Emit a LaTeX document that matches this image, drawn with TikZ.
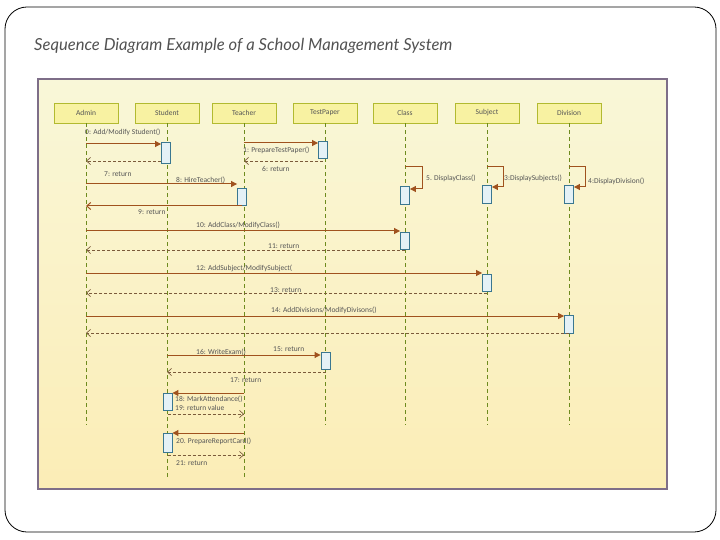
\documentclass[tikz,border=0pt]{standalone}
\usepackage{fontspec}
\setmainfont{Carlito}
\newfontfamily\titlefont{Lato}
\usetikzlibrary{arrows.meta}
\definecolor{frameC}{HTML}{7E6E88}
\definecolor{callC}{HTML}{A0521E}
\definecolor{retC}{HTML}{7B5B3B}
\definecolor{lifeC}{HTML}{6E8B1E}
\definecolor{headF}{HTML}{F8F2A2}
\definecolor{headD}{HTML}{B2BA30}
\definecolor{actF}{HTML}{E4F1F6}
\definecolor{actD}{HTML}{3A7790}
\definecolor{txtC}{HTML}{555555}
\definecolor{bgTop}{HTML}{F9F7D8}
\definecolor{bgBot}{HTML}{FBEDB6}
\tikzset{
  head/.style={draw=headD, fill=headF, line width=0.9pt, minimum width=64pt, minimum height=20pt, inner sep=0pt, font=\fontsize{7.5}{8}\selectfont, text=txtC},
  life/.style={draw=lifeC, line width=0.8pt, dash pattern=on 4pt off 3pt},
  act/.style={draw=actD, fill=actF, line width=0.9pt, minimum width=9pt, inner sep=0pt},
  call/.style={draw=callC, line width=1pt, -{Triangle[length=6pt,width=6pt]}},
  ret/.style={draw=retC, line width=0.7pt, dash pattern=on 3pt off 2pt, -{Straight Barb[length=4pt,width=7pt]}},
  retsolid/.style={draw=callC, line width=1pt, -{Straight Barb[length=4pt,width=7pt]}},
  lbl/.style={anchor=west, inner sep=0pt, font=\fontsize{7.5}{8}\selectfont, text=txtC},
}
\begin{document}
\begin{tikzpicture}[x=1pt,y=-1pt]
\useasboundingbox (0,0) rectangle (720,540);
\draw[line width=0.8pt, rounded corners=22pt] (5,7) rectangle (716,532);
\node[anchor=west, inner sep=0pt, font=\titlefont\itshape\fontsize{16.6}{20}\selectfont, text=black!68] (title) at (34,46) {Sequence Diagram Example of a School Management System};
\shade[top color=bgTop, bottom color=bgBot] (38,79) rectangle (667,489);
\draw[frameC, line width=1.2pt] (38,79) rectangle (667,489);

% heads
\node[head] (admin) at (86,113) {Admin};
\node[head] (student) at (167,113) {Student};
\node[head] (teacher) at (244,113) {Teacher};
\node[head] (testpaper) at (325,113) {TestPaper};
\node[head] (class) at (405,113) {Class};
\node[head] (subject) at (487,113) {Subject};
\node[head] (division) at (569,113) {Division};

% lifeline ends
\coordinate (adminE) at (86,425);
\coordinate (studentE) at (167,477);
\coordinate (teacherE) at (244,477);
\coordinate (testpaperE) at (325,425);
\coordinate (classE) at (405,425);
\coordinate (subjectE) at (487,425);
\coordinate (divisionE) at (569,425);
\foreach \n in {admin,student,teacher,testpaper,class,subject,division}
  \draw[life] (\n.south) -- (\n E);

% activations
\node[act, minimum height=21pt] (a1) at (166,152.5) {};
\node[act, minimum height=17pt] (a2) at (323,150) {};
\node[act, minimum height=18pt] (a3) at (405,195) {};
\node[act, minimum height=18pt] (a4) at (487,194) {};
\node[act, minimum height=18pt] (a5) at (569,194) {};
\node[act, minimum height=17pt] (a6) at (242,196.5) {};
\node[act, minimum height=17pt] (a7) at (405,240.5) {};
\node[act, minimum height=17pt] (a8) at (487,282.5) {};
\node[act, minimum height=18pt] (a9) at (569,324) {};
\node[act, minimum height=17pt] (a10) at (325.5,360.5) {};
\node[act, minimum height=17pt] (a11) at (167.5,401.5) {};
\node[act, minimum height=19pt] (a12) at (167.5,442.5) {};

% messages
\draw[call] (admin |- 0,144) -- (a1.west |- 0,144);
\node[lbl] (l0) at (85,132) {0: Add/Modify Student()};
\draw[ret] (a1.west |- 0,161) -- (admin |- 0,161);
\node[lbl] (l7) at (104,174) {7: return};

\draw[call] (teacher |- 0,143) -- (a2.west |- 0,143);
\node[lbl] (l1) at (243,150) {1: PrepareTestPaper()};
\draw[ret] (a2.south |- 0,161) -- (teacher |- 0,161);
\node[lbl] (l6) at (262,169) {6: return};

\draw[call] (class |- 0,167) -- (422,167) -- (422,189) -- (a3.east |- 0,189);
\node[lbl] (l5) at (426,178) {5. DisplayClass()};
\draw[call] (subject |- 0,167) -- (503,167) -- (503,187) -- (a4.east |- 0,187);
\node[lbl] (l3) at (504,178) {3:DisplaySubjects()};
\draw[call] (division |- 0,167) -- (585,167) -- (585,187) -- (a5.east |- 0,187);
\node[lbl] (l4) at (588,181) {4:DisplayDivision()};

\draw[call] (admin |- 0,184) -- (a6.west |- 0,184);
\node[lbl] (l8) at (176,180) {8: HireTeacher()};
\draw[retsolid] (a6.south |- 0,206) -- (admin |- 0,206);
\node[lbl] (l9) at (138,212) {9: return};

\draw[call] (admin |- 0,231) -- (a7.west |- 0,231);
\node[lbl] (l10) at (196,225) {10: AddClass/ModifyClass()};
\draw[ret] (a7.south |- 0,250) -- (admin |- 0,250);
\node[lbl] (l11) at (268,246) {11: return};

\draw[call] (admin |- 0,273) -- (a8.west |- 0,273);
\node[lbl] (l12) at (196,268) {12: AddSubject/ModifySubject(};
\draw[ret] (a8.south |- 0,293) -- (admin |- 0,293);
\node[lbl] (l13) at (270,290) {13: return};

\draw[call] (admin |- 0,316) -- (a9.west |- 0,316);
\node[lbl] (l14) at (271,310) {14: AddDivisions/ModifyDivisons()};
\draw[ret] (a9.south |- 0,333) -- (admin |- 0,333);

\draw[call] (student |- 0,355) -- (a10.west |- 0,355);
\node[lbl] (l16) at (196,352) {16: WriteExam()};
\node[lbl] (l15) at (273,349) {15: return};
\draw[ret] (a10.south |- 0,372) -- (student |- 0,372);
\node[lbl] (l17) at (230,380) {17: return};

\draw[call] (teacher |- 0,393) -- (a11.east |- 0,393);
\node[lbl] (l18) at (175,399) {18: MarkAttendance()};
\draw[ret] (a11.south |- 0,414) -- (teacher |- 0,414);
\node[lbl] (l19) at (175,408) {19: return value};

\draw[call] (teacher |- 0,433) -- (a12.east |- 0,433);
\node[lbl] (l20) at (176,441) {20. PrepareReportCard()};
\draw[ret] (a12.south |- 0,455) -- (teacher |- 0,455);
\node[lbl] (l21) at (176,463) {21: return};
\end{tikzpicture}
\end{document}
